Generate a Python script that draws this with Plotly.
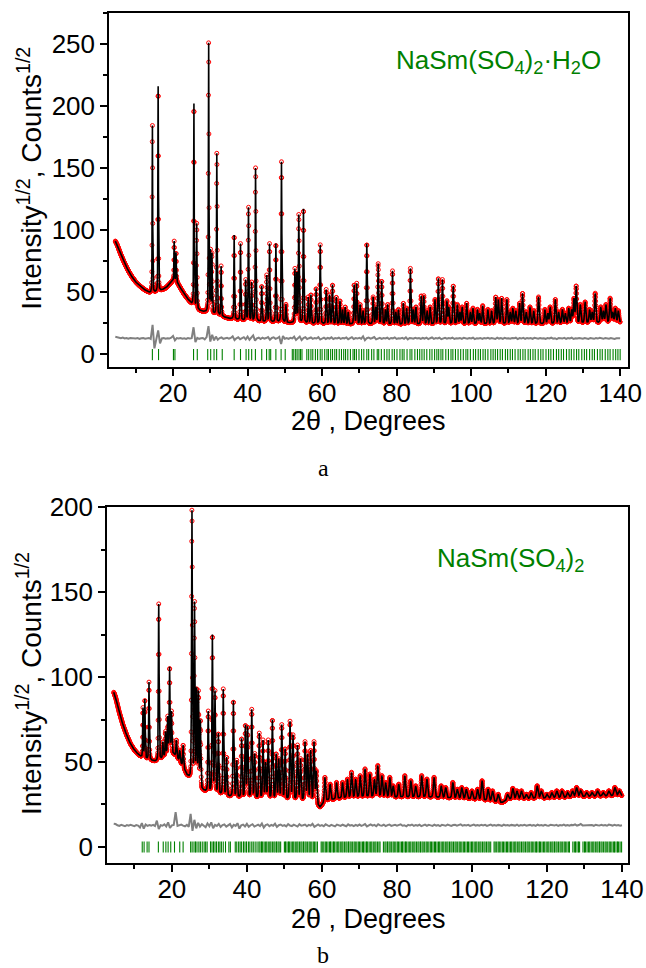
import numpy as np
import plotly.graph_objects as go

# ---------------- Panel a : NaSm(SO4)2·H2O ----------------
bg_a_x = [4.5, 5, 6, 7, 8, 9, 10, 11, 12, 13, 14, 15, 16, 17, 18, 19, 20, 21, 22, 23, 24, 25,
          26, 27, 28, 30, 32, 35, 38, 42, 50, 60, 80, 100, 120, 140]
bg_a_y = [91, 88, 80, 73, 67, 62, 58, 55, 52.5, 50.5, 49, 49.5, 50, 51.5, 53, 56, 59, 58, 53, 48, 44, 40,
          37, 35, 34, 32.5, 31, 28.5, 27, 26, 25, 24, 23.5, 24, 24, 25]

peak_pos_a = [14.45, 16.0, 20.3, 20.8, 25.6, 26.35, 29.55, 30.05, 30.45, 31.75, 32.9, 36.4, 38.1, 39.5,
              40.25, 41.1, 42.15, 43.8, 45.15, 45.9, 47.6, 49.1, 50.3, 52.7, 53.2, 53.75, 55.0, 56.3,
              57.0, 58.4, 59.5, 61.1, 62.0, 62.8, 63.8, 64.8, 65.5, 66.2, 67.0, 68.6, 69.3, 70.2, 71.0,
              72.0, 73.7, 74.4, 75.05, 76.0, 77.0, 77.6, 78.9, 79.8, 80.5, 81.8, 82.7, 83.7, 84.5, 85.2,
              86.6, 87.3, 88.2, 89.0, 90.3, 91.2, 92.3, 93.5, 94.0, 95.2, 96.3, 97.0, 97.6, 98.8, 99.8,
              100.5, 101.7, 102.3, 103.1, 104.5, 105.5, 106.6, 107.3, 108.2, 109.6, 110.5, 111.2, 112.0,
              113.0, 113.8, 114.8, 115.8, 116.8, 118.1, 119.8, 120.6, 121.2, 122.6, 123.5, 124.5, 125.3,
              126.2, 127.0, 127.6, 128.2, 129.3, 130.6, 131.8, 132.5, 133.3, 134.8, 135.5, 136.2, 137.3,
              138.0, 138.7, 139.5]
peak_int_a = [186, 216, 91, 82, 202, 106, 253, 85, 82, 163, 71, 96, 89, 60,
              119, 58, 151, 55, 64, 89, 89, 155, 40, 69, 66, 113, 117, 46,
              48, 53, 88, 52, 48, 56, 46, 43, 36, 38, 34, 56, 57, 40, 35,
              89, 46, 38, 73, 59, 36, 40, 67, 34, 36, 41, 37, 69, 36, 38,
              47, 47, 35, 38, 44, 61, 60, 43, 38, 55, 40, 34, 38, 41, 34,
              37, 36, 33, 39, 36, 35, 46, 44, 45, 44, 34, 37, 35,
              41, 49, 34, 38, 35, 46, 36, 33, 38, 44, 34, 36, 33,
              37, 36, 45, 55, 40, 42, 36, 34, 49, 38, 35, 40, 45,
              34, 37, 35]

# difference curve, 0.5 degree step starting at 4.5
diff_a = [13.8,
          13.6, 13.0, 12.7, 13.2, 12.5, 12.9, 12.3, 12.8, 12.6, 13.0,
          12.4, 12.8, 12.2, 12.7, 12.9, 12.3, 12.6, 12.9, 12.1, 23.5,
          4.5, 12.2, 19.0, 8.5, 12.6, 12.9, 12.3, 12.7, 12.4, 13.1,
          14.5, 11.0, 12.8, 12.4, 12.9, 12.3, 12.6, 12.1, 12.8, 12.5,
          12.7, 21.5, 9.5, 13.0, 12.2, 12.6, 12.9, 11.8, 13.6, 22.5,
          10.0, 15.5, 11.0, 14.0, 11.5, 12.8, 13.3, 12.2, 12.7, 13.0,
          12.4, 12.9, 14.2, 11.2, 12.6, 13.4, 11.9, 12.8, 13.5, 11.8,
          14.0, 11.5, 12.9, 15.0, 10.8, 12.6, 13.1, 12.0, 13.2, 12.4,
          12.8, 13.6, 11.5, 12.9, 13.4, 12.2, 12.7, 13.8, 8.0, 14.5,
          12.3, 12.8, 12.1, 13.0, 12.5, 13.9, 11.3, 12.6, 14.0, 11.2,
          12.8, 13.5, 12.0, 12.7, 13.3, 12.2, 12.9, 12.5, 13.6, 11.6,
          12.6, 13.2, 12.1, 12.9, 12.4, 13.4, 12.0, 12.8, 12.5, 13.1,
          12.2, 12.9, 12.6, 13.3, 11.9, 12.7, 13.5, 12.1, 12.8, 12.4,
          13.0, 12.3, 14.2, 11.0, 12.7, 13.2, 12.4, 12.9, 13.6, 11.8,
          12.6, 13.0, 12.2, 12.8, 12.5, 13.1, 12.0, 12.9, 12.6, 13.3,
          12.1, 12.7, 12.4, 13.0, 12.2, 13.4, 11.8, 12.9, 12.6, 12.3,
          13.0, 12.5, 12.8, 12.1, 12.9, 12.4, 13.2, 12.0, 12.7, 13.3,
          12.2, 12.8, 12.5, 13.1, 11.9, 12.6, 13.0, 12.3, 12.8, 12.5,
          13.2, 12.1, 12.7, 12.4, 12.9, 12.2, 13.0, 12.6, 12.3, 12.8,
          12.5, 13.1, 12.0, 12.7, 12.4, 12.9, 12.2, 12.8, 12.5, 13.0,
          12.3, 12.9, 12.6, 12.1, 13.2, 12.4, 12.8, 12.2, 13.0, 12.5,
          12.7, 12.3, 12.9, 12.6, 13.1, 12.0, 12.8, 12.4, 13.0, 12.2,
          12.9, 12.5, 12.8, 12.1, 13.0, 12.6, 12.3, 12.9, 12.4, 12.7,
          12.2, 12.8, 12.5, 13.1, 12.3, 12.7, 12.0, 12.9, 12.6, 12.4,
          13.0, 12.2, 12.8, 12.5, 13.2, 12.1, 12.7, 12.4, 12.9, 12.6,
          12.3, 12.8, 12.5, 12.1, 12.9, 12.6, 12.2, 12.8, 12.4, 13.0,
          12.5, 12.2, 12.8, 12.6, 12.3, 12.9, 12.5, 12.1, 12.7, 12.4,
          12.6]

refl_a = [14.45, 16.1, 20.1, 20.5, 25.5, 26.5, 29.3, 30.1, 31.0, 31.7, 33.2, 36.4, 38.1, 39.6, 40.3,
          41.1, 42.1, 43.8, 45.1, 45.8, 46.2, 47.6, 49.0, 50.1, 52.0, 52.4, 52.9, 53.3, 53.8, 54.2,
          54.6, 55.9, 56.4, 57.0, 57.5, 58.2, 58.8, 59.5, 60.0, 60.7, 61.3, 61.7, 62.3, 62.8, 63.4,
          63.9, 64.6, 65.2, 65.8, 66.3, 66.9, 67.6, 68.3, 68.7, 69.2, 69.9, 70.6, 71.2, 72.0, 72.5,
          73.3, 73.9, 74.8, 75.2, 75.9, 76.7, 77.4, 78.0, 78.8, 79.4, 80.1, 80.9, 81.5, 82.0, 82.8,
          83.6, 84.1, 84.9, 85.6, 86.2, 86.8, 87.4, 88.1, 88.9, 89.5, 90.2, 90.8, 91.3, 91.9, 92.4,
          93.2, 93.9, 94.6, 95.1, 95.8, 96.5, 97.2, 97.9, 98.6, 99.1, 99.8, 100.6, 101.2, 101.9,
          102.5, 103.2, 103.8, 104.5, 105.3, 105.9, 106.5, 107.1, 107.8, 108.4, 109.2, 109.8, 110.5,
          111.1, 111.8, 112.6, 113.2, 113.9, 114.5, 115.3, 115.9, 116.6, 117.2, 118.0, 118.7, 119.3,
          120.1, 120.8, 121.4, 122.1, 122.9, 123.5, 124.2, 124.8, 125.6, 126.3, 126.9, 127.6, 128.3,
          128.9, 129.7, 130.4, 131.0, 131.8, 132.5, 133.1, 133.9, 134.6, 135.2, 136.0, 136.7, 137.3,
          138.1, 138.8, 139.4, 140.0]

# ---------------- Panel b : NaSm(SO4)2 ----------------
bg_b_x = [4.5, 5, 6, 7, 8, 9, 10, 11, 12, 13, 14, 15, 16, 17, 18, 19, 20, 21, 22, 23, 24, 25, 26,
          28, 30, 33, 36, 40, 45, 50, 55, 58, 59.5, 61, 65, 70, 80, 90, 100, 108, 110, 120, 130, 140]
bg_b_y = [91, 88, 79, 71.5, 65.5, 60.5, 57, 54.5, 52.5, 51.5, 51, 50.5, 50, 51, 53, 55, 55, 53.5, 50.5,
          47, 42, 39, 37, 33, 31.5, 30, 29, 28, 27.5, 27, 26.5, 25.5, 23, 27, 28.5, 29, 29, 29, 28,
          26, 28, 28.5, 29.5, 30]

peak_pos_b = [12.3, 12.8, 13.9, 16.5, 17.6, 18.3, 18.9, 19.4, 19.9, 21.2, 22.1, 23.0, 25.35, 26.05,
              26.6, 27.1, 27.6, 29.7, 30.8, 31.5, 32.4, 33.7, 34.6, 36.4, 37.3, 38.6, 39.6, 40.2,
              41.3, 42.1, 43.3, 44.3, 45.0, 45.7, 46.8, 47.8, 48.5, 49.3, 50.2, 51.5, 52.3, 53.5,
              54.3, 55.5, 56.2, 57.0, 57.9, 58.5, 60.8, 62.2, 63.9, 65.5, 66.8, 67.9, 69.0, 70.2,
              71.5, 72.8, 74.0, 74.9, 76.0, 77.0, 78.1, 79.0, 80.5, 82.1, 83.7, 85.0, 86.6, 88.0,
              89.9, 91.8, 93.0, 94.9, 96.1, 97.3, 98.5, 100.0, 101.5, 102.7, 104.3, 105.5, 107.0,
              109.5, 110.9, 112.0, 113.2, 114.5, 115.8, 117.4, 118.5, 120.0, 121.3, 122.6, 124.0,
              125.5, 126.8, 127.9, 129.0, 130.6, 132.0, 133.5, 135.0, 136.5, 138.1, 139.3]
peak_int_b = [82, 87, 97, 143, 62, 68, 77, 106, 80, 63, 57, 60, 199, 145, 94, 92, 75, 80, 125, 92,
              67, 93, 53, 86, 51, 64, 72, 71, 81, 55, 67, 63, 50, 63, 75, 55, 52, 72, 58, 74,
              66, 60, 52, 62, 55, 57, 62, 45, 41, 37, 38, 38, 40, 44, 40, 42, 46, 43, 40, 48,
              42, 38, 41, 36, 37, 42, 39, 36, 42, 40, 41, 36, 35, 38, 34, 35, 34, 33, 34, 39,
              34, 33, 31, 31, 34.5, 33, 33, 31, 32, 36, 33, 31, 32, 33, 33, 32, 33, 35, 33, 32,
              32, 33, 32, 33, 35, 33]

diff_b = [13.7,
          13.5, 12.8, 12.4, 13.0, 12.6, 12.2, 12.9, 12.5, 13.1, 12.7,
          12.3, 12.9, 12.6, 11.5, 14.0, 10.8, 13.2, 12.4, 12.9, 12.6,
          13.0, 12.3, 15.5, 10.5, 12.8, 12.5, 13.3, 12.1, 14.5, 11.2,
          12.7, 13.0, 20.5, 12.4, 12.9, 13.2, 12.6, 12.2, 13.0, 11.8,
          19.5, 9.5, 16.0, 11.0, 14.2, 12.0, 13.4, 12.5, 11.6, 13.8,
          12.2, 14.5, 11.0, 13.0, 12.4, 13.6, 11.8, 12.9, 13.3, 12.0,
          12.7, 13.5, 11.5, 13.0, 12.4, 14.0, 10.8, 12.8, 13.2, 12.1,
          13.6, 11.9, 12.8, 13.4, 12.0, 12.7, 13.1, 12.3, 13.8, 11.4,
          12.9, 13.3, 12.2, 13.0, 12.5, 13.7, 11.8, 12.8, 13.2, 12.4,
          12.9, 12.1, 13.5, 12.6, 12.3, 13.1, 12.7, 12.0, 13.4, 12.5,
          12.8, 13.2, 12.2, 13.0, 12.6, 13.6, 11.9, 12.7, 13.3, 12.4,
          12.9, 12.2, 13.4, 12.7, 12.3, 13.0, 12.6, 12.1, 13.2, 12.8,
          12.4, 13.1, 12.7, 12.2, 13.3, 12.6, 12.9, 12.3, 13.0, 12.5,
          13.2, 12.4, 12.9, 13.5, 12.1, 12.8, 13.3, 12.6, 13.0, 12.2,
          13.4, 12.7, 12.5, 13.1, 12.3, 12.9, 13.2, 12.4, 12.8, 13.0,
          12.6, 12.9, 13.3, 12.5, 12.8, 12.2, 13.0, 12.7, 13.2, 12.4,
          12.9, 12.6, 13.1, 12.3, 12.8, 13.2, 12.5, 13.0, 12.7, 12.4,
          13.1, 12.6, 12.9, 12.3, 13.0, 12.7, 12.5, 13.2, 12.8, 12.4,
          12.9, 13.1, 12.6, 12.8, 13.3, 12.5, 12.9, 12.7, 13.0, 12.4,
          12.8, 13.2, 12.6, 12.9, 12.5, 13.1, 12.7, 13.0, 12.4, 12.8,
          13.2, 12.6, 12.9, 12.5, 13.0, 12.8, 12.4, 13.1, 12.7, 12.9,
          12.5, 13.0, 12.8, 12.6, 13.2, 12.4, 12.9, 12.7, 13.1, 12.5,
          12.8, 13.0, 12.6, 12.9, 12.4, 13.1, 12.7, 12.9, 12.5, 13.0,
          12.7, 12.5, 13.1, 12.8, 12.6, 13.0, 12.4, 12.9, 12.7, 13.2,
          12.6, 12.9, 12.5, 13.0, 12.8, 13.3, 12.6, 12.9, 13.5, 12.7,
          12.8, 12.5, 13.0, 12.7, 12.9, 12.4, 13.1, 12.8, 12.6, 13.0,
          12.7, 12.9, 12.5, 13.2, 12.8, 12.6, 13.0, 12.7, 12.9, 12.5,
          12.8]

refl_b = [12.1, 12.6, 13.4, 13.9, 16.4, 17.7, 18.4, 19.0, 19.7, 20.7, 22.1, 23.0, 25.0, 25.4, 25.9,
          26.3, 26.7, 27.2, 27.6, 28.1, 28.6, 29.0, 29.4, 30.3, 30.7, 31.1, 31.5, 31.9, 32.4, 32.8,
          33.2, 33.7, 34.3, 35.2, 35.6, 36.9, 37.3, 37.8, 38.2, 38.6, 39.1, 39.5, 39.9, 40.4, 40.8,
          41.3, 41.7, 42.2, 42.7, 43.2,
          43.5, 43.9, 44.2, 44.6, 45.0, 45.3, 45.7, 46.1, 46.4, 46.8, 47.2, 47.5, 47.9, 48.3, 48.6,
          49.0, 50.0, 50.3, 50.7, 51.1, 51.4, 51.8, 52.2, 52.5, 52.9, 53.3, 53.6, 54.0, 54.4, 54.7,
          55.1, 55.5, 55.8, 56.2, 56.6, 56.9, 57.3, 57.7, 58.0, 58.4, 58.8, 59.8, 60.1, 60.5, 60.9,
          61.2, 61.6, 62.0, 62.3, 62.7, 63.1, 63.4, 63.8, 64.2, 64.5, 64.9, 65.3, 65.6, 66.0, 66.4,
          66.7, 67.1, 67.5, 67.8, 68.2, 68.6, 68.9, 69.3, 69.7, 70.0, 70.4, 70.8, 71.1, 71.5, 71.9,
          72.2, 72.6, 73.0, 73.3, 73.7, 74.1, 74.4, 74.8, 75.2, 75.5, 76.4, 76.8, 77.1, 77.5, 77.9,
          78.2, 78.6, 79.0, 79.3, 79.7, 80.1, 80.4, 80.8, 81.2, 81.5, 81.9, 82.3, 82.6, 83.0, 83.4,
          83.7, 84.1, 84.5, 84.8, 85.2, 85.6, 85.9, 86.3, 86.7, 87.0, 87.4, 87.8, 88.1, 88.5, 88.9,
          89.2, 89.6, 90.0, 90.3, 90.7, 91.1, 91.4, 91.8, 92.2, 92.5, 92.9, 93.3, 93.6, 94.0, 94.4,
          94.7, 95.1, 95.5, 95.8, 96.2, 96.6, 96.9, 97.3, 97.7, 98.0, 98.4, 98.8, 99.1, 99.5, 99.9,
          100.2, 100.6, 101.0, 101.3, 101.7, 102.1, 102.4, 102.8, 103.2, 103.5, 103.9, 104.3, 104.6,
          105.0, 105.9, 106.2, 106.6, 107.0, 107.3, 107.7, 108.1, 108.4, 108.8, 109.2, 109.5, 109.9,
          110.3, 110.6, 111.0, 111.4, 111.7, 112.1, 112.5, 112.8, 113.2, 113.6, 113.9, 114.3, 114.7,
          115.0, 115.4, 115.8, 116.1, 116.5, 116.9, 117.2, 117.6, 118.0, 118.3, 118.7, 119.1, 119.4,
          119.8, 120.2, 120.5, 120.9, 121.3, 121.6, 122.0, 122.4, 122.7, 123.1, 123.5, 123.8, 124.2,
          124.6, 124.9, 125.3, 125.7, 126.0, 126.9, 127.3, 127.6, 128.0, 128.4, 128.7, 129.6, 130.0,
          130.3, 130.7, 131.1, 131.4, 131.8, 132.2, 132.5, 132.9, 133.3, 133.6, 134.0, 134.4, 134.7,
          135.1, 135.5, 135.8, 136.2, 136.6, 136.9, 137.3, 137.7, 138.0, 138.4, 138.8, 139.1, 139.5,
          139.9]

x_ticks = [20, 40, 60, 80, 100, 120, 140]
y_ticks_a = [0, 50, 100, 150, 200, 250]
y_ticks_b = [0, 50, 100, 150, 200]


# ---------------- profile model built from the read peak list ----------------
def shape(x, c, w, eta=0.35):
    d = (x - c) / w
    return eta / (1 + 4 * d * d) + (1 - eta) * np.exp(-4 * np.log(2) * d * d)


def build_profile(grid, bgx, bgy, pos, inten, w0, w1):
    n = min(len(pos), len(inten))
    pos = np.asarray(pos[:n], float)
    inten = np.asarray(inten[:n], float)
    w = w0 + w1 * pos
    target = inten - np.interp(pos, bgx, bgy)
    M = shape(pos[:, None], pos[None, :], w[None, :])
    A = np.clip(target, 0, None)
    for _ in range(400):
        A = np.clip(A + 0.5 * (target - M @ A), 0, None)
    y = np.interp(grid, bgx, bgy)
    for c, wi, a in zip(pos, w, A):
        y = y + a * shape(grid, c, wi)
    return y


grid = np.arange(4.5, 140.0001, 0.02)
calc_a = build_profile(grid, bg_a_x, bg_a_y, peak_pos_a, peak_int_a, 0.13, 0.0018)
calc_b = build_profile(grid, bg_b_x, bg_b_y, peak_pos_b, peak_int_b, 0.17, 0.0030)

diff_x_a = [4.5 + 0.5 * i for i in range(len(diff_a))]
diff_x_b = [4.5 + 0.5 * i for i in range(len(diff_b))]

RED = "#ff0000"
GREEN = "#008000"
GRAY = "#808080"
FONT = "Liberation Sans, Arial, sans-serif"

fig = go.Figure()


def add_panel(calc, dx, dy, refl, refl_y, xa, ya):
    fig.add_trace(go.Scatter(x=grid[::2], y=calc[::2], mode="markers", xaxis=xa, yaxis=ya,
                             marker=dict(symbol="circle-open", size=4, color=RED,
                                         line=dict(width=1, color=RED)),
                             showlegend=False, hoverinfo="skip"))
    fig.add_trace(go.Scatter(x=grid, y=calc, mode="lines", xaxis=xa, yaxis=ya,
                             line=dict(color="black", width=1.6), showlegend=False,
                             hoverinfo="skip"))
    fig.add_trace(go.Scatter(x=dx, y=dy, mode="lines", xaxis=xa, yaxis=ya,
                             line=dict(color=GRAY, width=2.0), showlegend=False,
                             hoverinfo="skip"))
    fig.add_trace(go.Scatter(x=refl, y=[refl_y] * len(refl), mode="markers", xaxis=xa, yaxis=ya,
                             marker=dict(symbol="line-ns", size=8,
                                         line=dict(width=1.1, color=GREEN)),
                             showlegend=False, hoverinfo="skip"))


add_panel(calc_a, diff_x_a, diff_a, refl_a, -0.5, "x", "y")
add_panel(calc_b, diff_x_b, diff_b, refl_b, 0.0, "x2", "y2")

axis_common = dict(showline=True, linecolor="black", linewidth=1.5, mirror=True,
                   showgrid=False, zeroline=False, ticks="outside", ticklen=7,
                   tickwidth=1.5, tickcolor="black", automargin=False,
                   tickfont=dict(family=FONT, size=26, color="black"))
minor_x = dict(ticks="outside", ticklen=4, tickwidth=1.5, tickcolor="black", dtick=10, tick0=0)
minor_y = dict(ticks="outside", ticklen=4, tickwidth=1.5, tickcolor="black", dtick=25, tick0=0)

fig.update_layout(
    template="none",
    width=646, height=968, margin=dict(l=0, r=0, t=0, b=0, pad=0), autosize=False,
    paper_bgcolor="white", plot_bgcolor="white", showlegend=False,
    xaxis=dict(domain=[0.1687, 0.9721], range=[2.8, 142.1], anchor="y", tickvals=x_ticks,
               minor=minor_x, ticklabelstandoff=-5, **axis_common),
    yaxis=dict(domain=[0.6209, 0.9866], range=[-10.5, 275], anchor="x", tickvals=y_ticks_a,
               minor=minor_y, **axis_common),
    xaxis2=dict(domain=[0.1656, 0.9721], range=[2.7, 141.6], anchor="y2", tickvals=x_ticks,
                minor=minor_x, ticklabelstandoff=-5, **axis_common),
    yaxis2=dict(domain=[0.1085, 0.4762], range=[-9.4, 200], anchor="x2", tickvals=y_ticks_b,
                minor=minor_y, **axis_common),
)

title_font = dict(family=FONT, size=27, color="black")
serif = "Liberation Serif, Times New Roman, serif"
ann = [
    dict(text="NaSm(SO<sub>4</sub>)<sub>2</sub>·H<sub>2</sub>O", x=0.7717, y=0.936,
         font=dict(family=FONT, size=26, color=GREEN)),
    dict(text="NaSm(SO<sub>4</sub>)<sub>2</sub>", x=0.790, y=0.4225,
         font=dict(family=FONT, size=26, color=GREEN)),
    dict(text="2θ , Degrees", x=0.570, y=0.565, font=title_font),
    dict(text="2θ , Degrees", x=0.570, y=0.0506, font=title_font),
    dict(text="Intensity<sup>1/2</sup>, Counts<sup>1/2</sup>", x=0.046, y=0.816,
         textangle=-90, font=dict(family=FONT, size=28, color="black")),
    dict(text="Intensity<sup>1/2</sup>, Counts<sup>1/2</sup>", x=0.046, y=0.294,
         textangle=-90, font=dict(family=FONT, size=28, color="black")),
    dict(text="a", x=0.5, y=0.5165, font=dict(family=serif, size=24, color="black")),
    dict(text="b", x=0.5, y=0.0135, font=dict(family=serif, size=24, color="black")),
]
for a in ann:
    a.update(xref="paper", yref="paper", showarrow=False, xanchor="center", yanchor="middle")
fig.update_layout(annotations=ann)

fig.write_html("out.html")
